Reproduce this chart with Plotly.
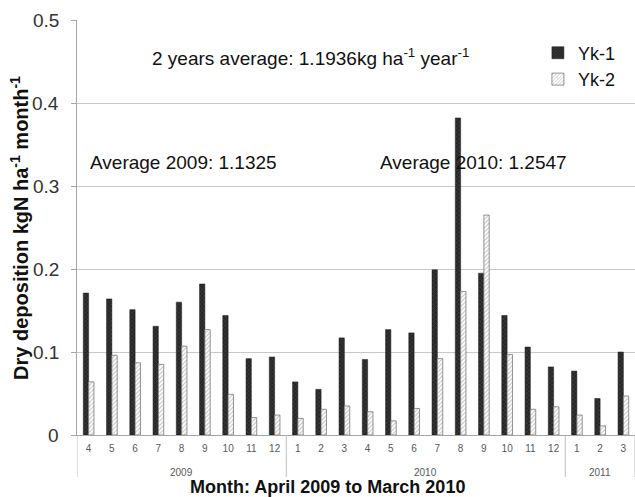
import plotly.graph_objects as go

# Monthly dry N deposition, April 2009 - March 2011
years = ["2009"] * 9 + ["2010"] * 12 + ["2011"] * 3
months = ["4", "5", "6", "7", "8", "9", "10", "11", "12",
          "1", "2", "3", "4", "5", "6", "7", "8", "9", "10", "11", "12",
          "1", "2", "3"]
yk1 = [0.171, 0.164, 0.151, 0.131, 0.160, 0.182, 0.144, 0.092, 0.094,
       0.064, 0.055, 0.117, 0.091, 0.127, 0.123, 0.199, 0.382, 0.195, 0.144, 0.106, 0.082,
       0.077, 0.044, 0.100]
yk2 = [0.064, 0.096, 0.087, 0.085, 0.107, 0.127, 0.049, 0.021, 0.024,
       0.020, 0.031, 0.035, 0.028, 0.017, 0.032, 0.092, 0.173, 0.265, 0.097, 0.031, 0.034,
       0.024, 0.011, 0.047]
y_ticks = [0, 0.1, 0.2, 0.3, 0.4, 0.5]
y_tick_text = ["0", "0.1", "0.2", "0.3", "0.4", "0.5"]

FONT = "Liberation Sans, Arial, sans-serif"
pos = list(range(len(months)))
PLOT_H = 415

fig = go.Figure()
fig.add_trace(go.Bar(
    x=pos, y=yk1, name="Yk-1",
    marker=dict(color="#2e2e2e",
                line=dict(color="#1a1a1a", width=0.5),
                pattern=dict(shape="x", fgcolor="#6a6a6a", bgcolor="#262626", size=3, solidity=0.3)),
))
fig.add_trace(go.Bar(
    x=pos, y=yk2, name="Yk-2",
    marker=dict(color="#ffffff",
                line=dict(color="#7a7a7a", width=0.8),
                pattern=dict(shape="/", fgcolor="#8a8a8a", bgcolor="#ffffff", size=3, solidity=0.35)),
))

fig.update_layout(
    width=635, height=497,
    margin=dict(l=77, r=0, t=20, b=62),
    paper_bgcolor="white", plot_bgcolor="white",
    font=dict(family=FONT, color="#222222"),
    barmode="group", bargap=0.54, bargroupgap=0,
    showlegend=True,
    legend=dict(x=0.826, y=0.965, xanchor="left", yanchor="top",
                font=dict(size=18, color="#111111"),
                bgcolor="rgba(0,0,0,0)", itemwidth=30, tracegroupgap=0),
    xaxis=dict(
        range=[-0.5, len(months) - 0.5],
        tickmode="array", tickvals=pos, ticktext=months,
        tickfont=dict(size=10, color="#595959"),
        showline=True, linecolor="#a6a6a6", linewidth=1,
        showgrid=False, ticks="", zeroline=False,
        ticklabelstandoff=4,
    ),
    yaxis=dict(
        range=[0, 0.5], tickmode="array", tickvals=y_ticks,
        showticklabels=False,
        showgrid=True, gridcolor="#c8c8c8", gridwidth=1,
        showline=True, linecolor="#a6a6a6", linewidth=1,
        zeroline=False,
        ticks="outside", ticklen=5, tickcolor="#a6a6a6",
    ),
)

# y tick labels set clear of the axis line
for v, t in zip(y_ticks, y_tick_text):
    fig.add_annotation(text=t, xref="paper", yref="y", x=0, xshift=-16, y=v,
                       xanchor="right", yanchor="middle", showarrow=False,
                       font=dict(size=19, color="#333333"))

# axis titles
fig.add_annotation(text="<b>Month: April 2009 to March 2010</b>",
                   xref="paper", yref="paper", x=0.449, y=0, yshift=-52,
                   xanchor="center", yanchor="middle", showarrow=False,
                   font=dict(size=18, color="#111111"))
fig.add_annotation(text="<b>Dry deposition kgN ha<sup>-1</sup> month<sup>-1</sup></b>",
                   xref="paper", yref="paper", x=0, xshift=-57, y=0.499,
                   textangle=-90, xanchor="center", yanchor="middle", showarrow=False,
                   font=dict(size=20, color="#111111"))

# year group labels under the month ticks, with divider lines
groups = {}
for i, yr in enumerate(years):
    groups.setdefault(yr, []).append(i)
for yr, idx in groups.items():
    fig.add_annotation(text=yr, xref="x", yref="paper",
                       x=sum(idx) / len(idx), y=0, yshift=-37,
                       xanchor="center", yanchor="middle", showarrow=False,
                       font=dict(size=10, color="#595959"))
bounds = [-0.5] + [idx[-1] + 0.5 for idx in groups.values()]
for b in bounds:
    fig.add_shape(type="line", xref="x", yref="paper", x0=b, x1=b,
                  y0=0, y1=-42 / PLOT_H, line=dict(color="#bfbfbf", width=1))

# average annotations
notes = [
    ("2 years average: 1.1936kg ha<sup>-1</sup> year<sup>-1</sup>", 0.131, 0.455),
    ("Average 2009: 1.1325", 0.0197, 0.328),
    ("Average 2010: 1.2547", 0.539, 0.328),
]
for text, xp, yv in notes:
    fig.add_annotation(text=text, xref="paper", yref="y", x=xp, y=yv,
                       xanchor="left", yanchor="middle", showarrow=False,
                       font=dict(size=19, color="#111111", family=FONT))

fig.write_html("out.html")
